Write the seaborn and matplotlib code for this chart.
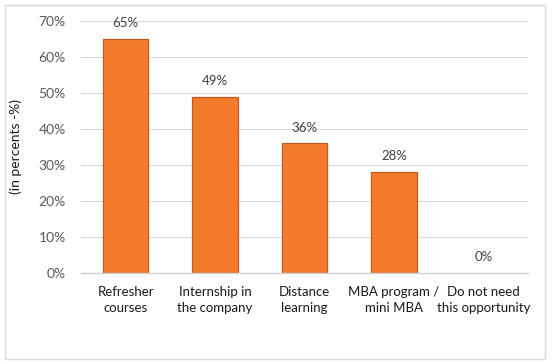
import matplotlib
matplotlib.use('Agg')
import matplotlib.pyplot as plt
import matplotlib.patches as mpatches
import seaborn as sns
import numpy as np
from matplotlib.ticker import PercentFormatter, FixedLocator

categories = ['Refresher\ncourses', 'Internship in\nthe company', 'Distance\nlearning',
              'MBA program /\nmini MBA', 'Do not need\nthis opportunity']
values = [65, 49, 36, 28, 0]

sns.set_theme(style='white')
plt.rcParams['font.family'] = ['Lato', 'DejaVu Sans']

fig = plt.figure(figsize=(5.52, 3.64), dpi=100)
ax = fig.add_axes([81 / 552, 1 - 273 / 364, 447 / 552, 252 / 364])

sns.barplot(x=categories, y=values, color='#F47B2B', width=0.51,
            edgecolor='#C25A1B', linewidth=0.9, saturation=1, ax=ax)

# hide outline of empty bars
for p in ax.patches:
    if p.get_height() == 0:
        p.set_linewidth(0)

# value labels
for c in ax.containers:
    ax.bar_label(c, labels=[f'{v}%' for v in values], padding=7,
                 fontsize=9.5, color='#404040')

ax.set_ylim(0, 70)
ax.set_xlim(-0.5, len(categories) - 0.5)
ax.yaxis.set_major_locator(FixedLocator(np.arange(0, 71, 10)))
ax.yaxis.set_major_formatter(PercentFormatter(decimals=0))
ax.grid(axis='y', color='#D9D9D9', linewidth=0.8)
ax.set_axisbelow(True)

for s in ['top', 'right', 'left']:
    ax.spines[s].set_visible(False)
ax.spines['bottom'].set_color('#D0D0D0')
ax.spines['bottom'].set_linewidth(1)

ax.tick_params(axis='y', length=0, labelsize=10, labelcolor='#595959', pad=11)
ax.tick_params(axis='x', which='major', length=0, labelsize=9.5, labelcolor='#1a1a1a', pad=9)
for lbl in ax.get_xticklabels():
    lbl.set_linespacing(1.45)
ax.set_xticks(np.arange(-0.5, len(categories)), minor=True)
ax.tick_params(axis='x', which='minor', length=4, color='#D0D0D0', width=1)

ax.set_ylabel('(in percents -%)', fontsize=10, color='#1a1a1a', labelpad=12)
ax.set_xlabel('')

# outer chart border
fig.patches.append(mpatches.Rectangle((5 / 552, 5 / 364), 540 / 552, 354 / 364,
                                      transform=fig.transFigure, fill=False,
                                      edgecolor='#D9D9D9', linewidth=1))

fig.savefig('out.png', dpi=100)
